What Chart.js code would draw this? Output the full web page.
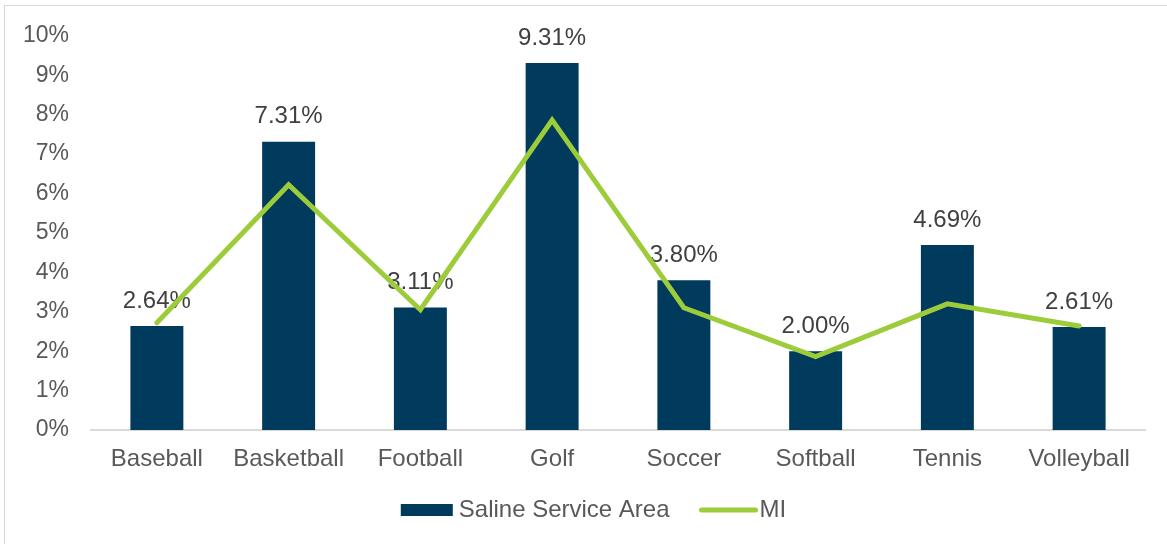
<!DOCTYPE html>
<html lang="en">
<head>
	<meta charset="utf-8">
	<title>Sports participation</title>
	<style>
html, body {
	margin: 0;
	padding: 0;
	background: #fff;
	overflow: hidden;
}
#frame {
	position: absolute;
	left: 4px;
	top: 5px;
	width: 1400px;
	height: 800px;
	border: 1.5px solid #d9d9d9;
}
#chartWrapper {
	position: absolute;
	left: 0;
	top: 0;
	width: 1167px;
	height: 544px;
}
	</style>
</head>
<body>

<div id="frame"></div>
<div id="chartWrapper">
  <canvas id="myChart"></canvas>
</div>

<script src="https://cdn.jsdelivr.net/npm/chart.js"></script>
<script>
const sports = ['Baseball', 'Basketball', 'Football', 'Golf', 'Soccer', 'Softball', 'Tennis', 'Volleyball'];
const salineArea = [2.64, 7.31, 3.11, 9.31, 3.80, 2.00, 4.69, 2.61];
const michigan = [2.72, 6.22, 3.05, 7.86, 3.10, 1.86, 3.20, 2.64];
const yTicks = [0, 1, 2, 3, 4, 5, 6, 7, 8, 9, 10];
const areaName = 'Saline Service Area';
const stateName = 'MI';

const navy = '#003a5c';
const lime = '#9dcc3a';
const fontFamily = '"Liberation Sans", Arial, sans-serif';

// value labels above each bar, drawn before the line so it passes over them
const barLabels = {
	id: 'barLabels',
	afterDatasetDraw(chart, args) {
		if (args.index !== 0) return;
		const ctx = chart.ctx;
		ctx.save();
		ctx.font = '24px ' + fontFamily;
		ctx.fillStyle = '#404040';
		ctx.textAlign = 'center';
		ctx.textBaseline = 'middle';
		args.meta.data.forEach((bar, i) => {
			ctx.fillText(salineArea[i].toFixed(2) + '%', bar.x, bar.y - 25);
		});
		ctx.restore();
	}
};

// one-row legend: navy box for the bars, short thick stroke for the line
const legendRow = {
	id: 'legendRow',
	afterDraw(chart) {
		const ctx = chart.ctx;
		ctx.save();
		ctx.font = '24px ' + fontFamily;
		ctx.textBaseline = 'middle';
		ctx.fillStyle = '#595959';
		const y = chart.height - 34;
		const w1 = ctx.measureText(areaName).width;
		const w2 = ctx.measureText(stateName).width;
		const total = 52 + 6 + w1 + 30 + 58 + 2 + w2;
		let x = chart.width / 2 + 10 - total / 2;

		ctx.fillStyle = navy;
		ctx.fillRect(x, y - 6, 52, 12);
		x += 58;
		ctx.fillStyle = '#595959';
		ctx.fillText(areaName, x, y);
		x += w1 + 30;

		ctx.strokeStyle = lime;
		ctx.lineWidth = 5;
		ctx.lineCap = 'round';
		ctx.beginPath();
		ctx.moveTo(x + 2, y);
		ctx.lineTo(x + 56, y);
		ctx.stroke();
		x += 60;
		ctx.fillText(stateName, x, y);
		ctx.restore();
	}
};

const ctx = document.getElementById('myChart');

new Chart(ctx, {
	data: {
		labels: sports,
		datasets: [
			{
				type: 'bar',
				label: areaName,
				data: salineArea,
				backgroundColor: navy,
				barPercentage: 0.402,
				categoryPercentage: 1,
				order: 1
			},
			{
				type: 'line',
				label: stateName,
				data: michigan,
				borderColor: lime,
				borderWidth: 5,
				borderCapStyle: 'round',
				borderJoinStyle: 'miter',
				pointRadius: 0,
				tension: 0,
				order: 0
			}
		]
	},
	options: {
		responsive: true,
		maintainAspectRatio: false,
		animation: false,
		events: [],
		layout: {
			padding: { top: 33, right: 22, bottom: 54, left: 0 }
		},
		scales: {
			x: {
				grid: { display: false, drawTicks: false },
				border: { display: true, color: '#d9d9d9', width: 2 },
				ticks: {
					color: '#595959',
					font: { family: fontFamily, size: 24 },
					padding: 15,
					maxRotation: 0
				},
				afterFit(scale) {
					scale.height = 60;
				}
			},
			y: {
				min: 0,
				max: 10,
				grid: { display: false, drawTicks: false },
				border: { display: false },
				afterBuildTicks(scale) {
					scale.ticks = yTicks.map(v => ({ value: v }));
				},
				ticks: {
					color: '#595959',
					font: { family: fontFamily, size: 23 },
					padding: 22,
					callback: v => v + '%'
				},
				afterFit(scale) {
					scale.width = 91;
				}
			}
		},
		plugins: {
			legend: { display: false },
			tooltip: { enabled: false }
		}
	},
	plugins: [barLabels, legendRow]
});
</script>
</body>
</html>
